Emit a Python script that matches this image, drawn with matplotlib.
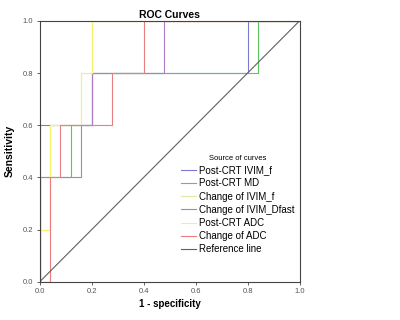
import matplotlib
matplotlib.use('Agg')
import matplotlib.pyplot as plt

plt.rcParams['font.family'] = ['Liberation Sans', 'DejaVu Sans']

# ROC points (1 - specificity, sensitivity):
labels = ['Post-CRT IVIM_f', 'Post-CRT MD', 'Change of IVIM_f',
          'Change of IVIM_Dfast', 'Post-CRT ADC', 'Change of ADC',
          'Reference line']
colors = ['#7a7ad0', '#5ec45e', '#e6e6a6', '#b07cc4', '#f4f46a',
          '#e87e7e', '#606060']

fpr_ivim_f = [0, 0, 0.2, 0.2, 0.8, 0.8, 1]
tpr_ivim_f = [0, 0.6, 0.6, 0.8, 0.8, 1, 1]
fpr_md = [0, 0, 0.12, 0.12, 0.2, 0.2, 0.84, 0.84, 1]
tpr_md = [0, 0.4, 0.4, 0.6, 0.6, 0.8, 0.8, 1, 1]
fpr_chg_f = [0, 0, 0.04, 0.04, 0.16, 0.16, 0.2, 0.2, 1]
tpr_chg_f = [0, 0.2, 0.2, 0.6, 0.6, 0.8, 0.8, 1, 1]
fpr_dfast = [0, 0, 0.16, 0.16, 0.2, 0.2, 0.48, 0.48, 1]
tpr_dfast = [0, 0.4, 0.4, 0.6, 0.6, 0.8, 0.8, 1, 1]
fpr_adc = [0, 0, 0.04, 0.04, 0.16, 0.16, 0.2, 0.2, 1]
tpr_adc = [0, 0.2, 0.2, 0.6, 0.6, 0.8, 0.8, 1, 1]
fpr_chg_adc = [0, 0.04, 0.04, 0.08, 0.08, 0.28, 0.28, 0.4, 0.4, 1]
tpr_chg_adc = [0, 0, 0.4, 0.4, 0.6, 0.6, 0.8, 0.8, 1, 1]
fpr_ref = [0, 1]
tpr_ref = [0, 1]

series = [(fpr_ivim_f, tpr_ivim_f), (fpr_md, tpr_md), (fpr_chg_f, tpr_chg_f),
          (fpr_dfast, tpr_dfast), (fpr_adc, tpr_adc),
          (fpr_chg_adc, tpr_chg_adc), (fpr_ref, tpr_ref)]
ticks = [0.0, 0.2, 0.4, 0.6, 0.8, 1.0]

fig = plt.figure(figsize=(4, 3.2), dpi=100)
ax = fig.add_axes([0.099, 0.119, 0.65, 0.816])
for (x, y), c, lab in zip(series, colors, labels):
    ax.plot(x, y, color=c, lw=0.8, label=lab)

ax.set_xlim(0, 1)
ax.set_ylim(0, 1)
ax.set_xticks(ticks)
ax.set_yticks(ticks)
ax.set_xticklabels(['%0.1f' % t for t in ticks])
ax.set_yticklabels(['%0.1f' % t for t in ticks])
ax.tick_params(labelsize=5.5, labelcolor='#555555', length=2.5, width=0.6,
               color='#444444', pad=2)
for s in ax.spines.values():
    s.set_color('#444444')
    s.set_linewidth(0.8)

ax.set_title('ROC Curves', fontsize=7.5, fontweight='bold', pad=2)
ax.set_xlabel('1 - specificity', fontsize=7, fontweight='bold', labelpad=3)
ax.set_ylabel('Sensitivity', fontsize=7.5, fontweight='bold', labelpad=6)

leg = ax.legend(loc='upper left', bbox_to_anchor=(0.525, 0.505),
                frameon=False, fontsize=7, handlelength=1.5,
                handletextpad=0.4, labelspacing=0.33,
                title='Source of curves', title_fontsize=5.5, borderpad=0)

fig.savefig('out.png', dpi=100)
